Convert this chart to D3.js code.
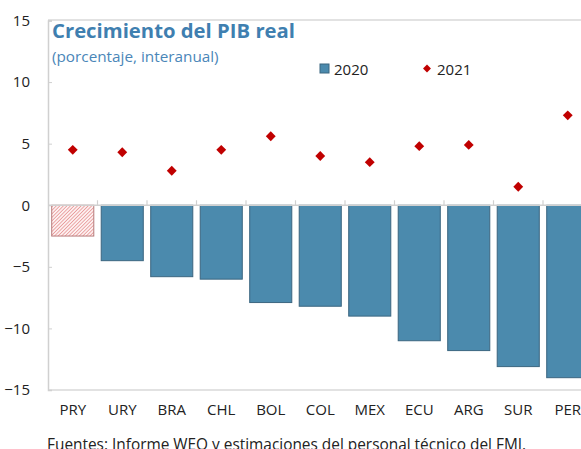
<!DOCTYPE html>
<html>
<head>
<meta charset="utf-8">
<script src="https://cdn.jsdelivr.net/npm/d3@7"></script>
<style>
  body { margin: 0; background: #fff; }
  svg { font-family: "Open Sans", sans-serif; }
</style>
</head>
<body>
<div id="chart"></div>
<script>
// datos
const paises = ['PRY', 'URY', 'BRA', 'CHL', 'BOL', 'COL', 'MEX', 'ECU', 'ARG', 'SUR', 'PER'];
const pib2020 = [-2.5, -4.5, -5.8, -6.0, -7.9, -8.2, -9.0, -11.0, -11.8, -13.1, -14.0];
const pib2021 = [4.5, 4.3, 2.8, 4.5, 5.6, 4.0, 3.5, 4.8, 4.9, 1.5, 7.3];
const yTicks = [-15, -10, -5, 0, 5, 10, 15];

const width = 581, height = 449;
const mLeft = 48, mTop = 20, mBottom = 390;
const mRight = mLeft + 49.5 * paises.length;

const svg = d3.select('#chart').append('svg')
  .attr('width', width)
  .attr('height', height);

const defs = svg.append('defs');
const pat = defs.append('pattern')
  .attr('id', 'rayado')
  .attr('patternUnits', 'userSpaceOnUse')
  .attr('width', 2.5).attr('height', 2.5)
  .attr('patternTransform', 'rotate(45)');
pat.append('rect').attr('width', 2.5).attr('height', 2.5).attr('fill', '#fdf0f0');
pat.append('line').attr('x1', 0).attr('y1', 0).attr('x2', 0).attr('y2', 2.5)
  .attr('stroke', '#de6f6f').attr('stroke-width', 1.1);

const x = d3.scaleBand().domain(paises).range([mLeft, mRight]).paddingInner(0.15).paddingOuter(0.075);
const y = d3.scaleLinear().domain([-15, 15]).range([mBottom, mTop + 0.5]);

// marco
svg.append('line').attr('x1', mLeft).attr('x2', width).attr('y1', mTop).attr('y2', mTop)
  .attr('stroke', '#d9d9d9').attr('stroke-width', 1.5);
svg.append('line').attr('x1', mLeft).attr('x2', width).attr('y1', mBottom).attr('y2', mBottom)
  .attr('stroke', '#d9d9d9').attr('stroke-width', 1.5);

// eje y
const yAxis = svg.append('g')
  .attr('transform', `translate(${mLeft},0)`)
  .call(d3.axisLeft(y).tickValues(yTicks).tickSize(-4).tickPadding(18));
yAxis.select('.domain').attr('stroke', '#d0d0d0').attr('stroke-width', 1.5);
yAxis.selectAll('.tick line').attr('stroke', '#d0d0d0');
yAxis.selectAll('.tick text').attr('font-size', 15).attr('fill', '#222')
  .attr('font-family', '"Open Sans", sans-serif');

// barras 2020
svg.append('g').selectAll('rect')
  .data(paises)
  .join('rect')
  .attr('x', (d) => x(d))
  .attr('width', x.bandwidth())
  .attr('y', y(0))
  .attr('height', (d, i) => y(pib2020[i]) - y(0))
  .attr('fill', (d, i) => i === 0 ? 'url(#rayado)' : '#4b8aad')
  .attr('stroke', (d, i) => i === 0 ? '#b77a7a' : '#3b6680')
  .attr('stroke-width', 1);

// linea cero y marcas de categoria
svg.append('line').attr('x1', mLeft).attr('x2', width).attr('y1', y(0)).attr('y2', y(0))
  .attr('stroke', '#d0d0d0').attr('stroke-width', 1.5);
svg.append('g').selectAll('line')
  .data(paises)
  .join('line')
  .attr('x1', (d) => x(d) - x.step() * x.paddingInner() / 2 + x.step())
  .attr('x2', (d) => x(d) - x.step() * x.paddingInner() / 2 + x.step())
  .attr('y1', y(0)).attr('y2', y(0) - 5)
  .attr('stroke', '#d0d0d0').attr('stroke-width', 1.2);

// rombos 2021
const rombo = d3.symbol().type(d3.symbolDiamond2).size(62);
svg.append('g').selectAll('path')
  .data(paises)
  .join('path')
  .attr('d', rombo)
  .attr('transform', (d, i) => `translate(${x(d) + x.bandwidth() / 2},${y(pib2021[i])})`)
  .attr('fill', '#c00000');

// etiquetas de categoria
const xAxis = svg.append('g')
  .attr('transform', `translate(0,${mBottom})`)
  .call(d3.axisBottom(x).tickSize(0).tickPadding(14));
xAxis.select('.domain').remove();
xAxis.selectAll('.tick text').attr('font-size', 15).attr('fill', '#222')
  .attr('font-family', '"Open Sans", sans-serif');

// titulos
svg.append('text').attr('x', 52).attr('y', 38)
  .attr('font-size', 20.3).attr('font-weight', 'bold').attr('fill', '#3f7fb0')
  .text('Crecimiento del PIB real');
svg.append('text').attr('x', 52).attr('y', 62)
  .attr('font-size', 15.3).attr('fill', '#4a86b8')
  .text('(porcentaje, interanual)');

// leyenda
svg.append('rect').attr('x', 320).attr('y', 64).attr('width', 9).attr('height', 9)
  .attr('fill', '#4b8aad').attr('stroke', '#3b6680');
svg.append('text').attr('x', 334).attr('y', 75).attr('font-size', 15).attr('fill', '#222').text('2020');
svg.append('path').attr('d', d3.symbol().type(d3.symbolDiamond2).size(40))
  .attr('transform', 'translate(427,68.5)').attr('fill', '#c00000');
svg.append('text').attr('x', 437).attr('y', 75).attr('font-size', 15).attr('fill', '#222').text('2021');

// fuente
svg.append('text').attr('x', 47).attr('y', 449.5)
  .attr('font-size', 15.4).attr('fill', '#222')
  .text('Fuentes: Informe WEO y estimaciones del personal técnico del FMI.');
</script>
</body>
</html>
